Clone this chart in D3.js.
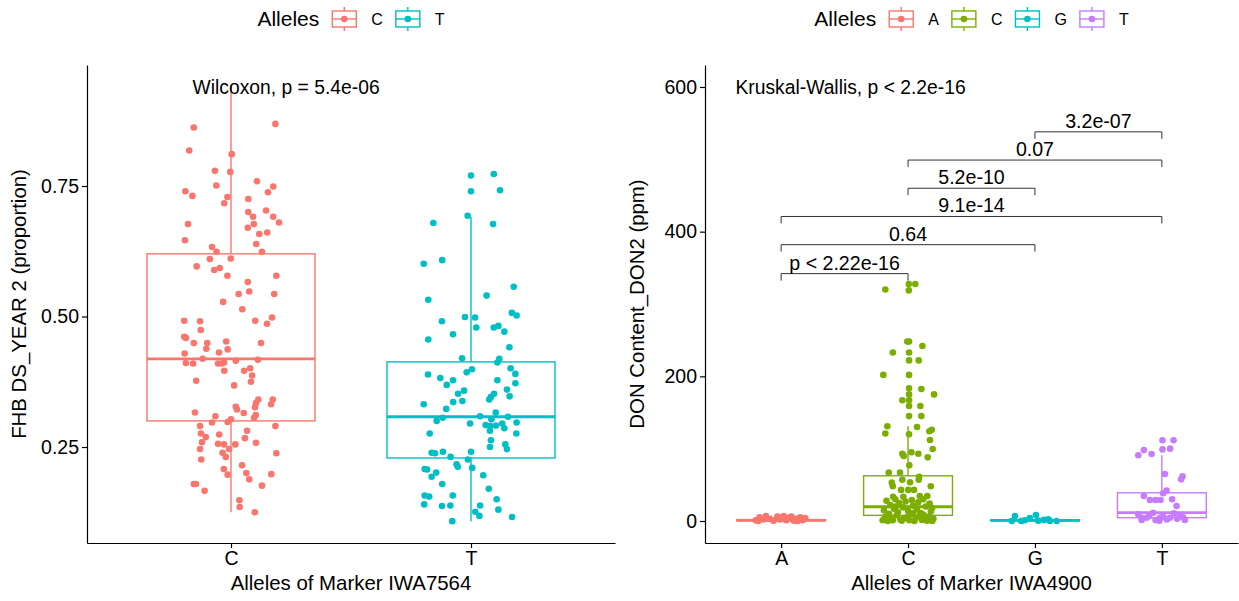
<!DOCTYPE html>
<meta charset="utf-8">
<style>
body { margin: 0; background: #fff; }
svg text { font-family: "Liberation Sans", Arial, sans-serif; fill: #000; }
.axis path, .axis line { stroke: #000; stroke-width: 1.2px; }
.axis text { font-size: 19.5px; fill: #000; }
</style>
<body>
<script src="https://d3js.org/d3.v7.min.js"></script>
<script>

// ---- left panel data (FHB DS_YEAR 2 by IWA7564) ----
var leftGroups = ["C", "T"];
var leftColors = ["#F8766D", "#00BFC4"];
var leftQ1  = [0.300, 0.229];
var leftMed = [0.419, 0.308];
var leftQ3  = [0.620, 0.413];
var leftLo  = [0.125, 0.108];
var leftHi  = [0.943, 0.691];
var leftTicks = [0.25, 0.50, 0.75];
var leftTest = "Wilcoxon, p = 5.4e-06";

// [jitter, value]
var leftPtsC = [[-0.155,0.862],[0.185,0.869],[-0.174,0.818],[0.003,0.811],[-0.067,0.779],[-0.003,0.777],
  [0.108,0.759],[-0.061,0.751],[0.176,0.749],[-0.19,0.740],[-0.161,0.731],[-0.015,0.729],[0.154,0.738],
  [0.072,0.725],[-0.028,0.717],[0.072,0.700],[0.146,0.703],[0.092,0.691],[0.176,0.691],[0.2,0.680],
  [-0.179,0.677],[0.095,0.677],[0.07,0.670],[0.118,0.658],[0.151,0.661],[-0.192,0.646],[0.105,0.639],
  [-0.079,0.633],[-0.06,0.624],[0.129,0.624],[-0.088,0.610],[-0.001,0.611],[-0.143,0.596],[-0.07,0.589],
  [-0.047,0.593],[-0.015,0.578],[0.189,0.578],[0.07,0.566],[0.032,0.543],[0.076,0.548],[0.18,0.543],
  [-0.033,0.528],[0.047,0.514],[-0.195,0.492],[-0.129,0.491],[0.101,0.492],[0.171,0.498],[0.15,0.486],
  [-0.126,0.474],[-0.195,0.461],[-0.188,0.459],[-0.155,0.449],[-0.099,0.449],[-0.02,0.452],[0.125,0.449],
  [-0.103,0.438],[-0.014,0.437],[-0.05,0.431],[-0.193,0.429],[-0.118,0.419],[0.02,0.415],[0.112,0.417],
  [-0.188,0.411],[-0.158,0.410],[-0.054,0.410],[-0.038,0.410],[-0.029,0.412],[-0.028,0.396],[0.055,0.396],
  [0.08,0.401],[0.088,0.387],[0.083,0.375],[-0.145,0.377],[0.013,0.368],[0.114,0.341],[0.174,0.341],
  [0.167,0.332],[0.104,0.334],[0.1,0.326],[0.02,0.327],[0.025,0.322],[0.053,0.315],[-0.15,0.316],
  [0.103,0.311],[0.096,0.306],[-0.065,0.309],[0,0.303],[-0.014,0.298],[-0.079,0.297],[-0.129,0.290],
  [0.185,0.290],[-0.125,0.276],[0.067,0.281],[-0.105,0.269],[-0.049,0.274],[0.058,0.267],[-0.121,0.259],
  [-0.054,0.256],[-0.029,0.255],[0.018,0.255],[0.104,0.258],[-0.129,0.246],[-0.008,0.246],[-0.035,0.239],
  [0.189,0.238],[-0.022,0.231],[-0.124,0.226],[0.046,0.215],[-0.03,0.208],[-0.014,0.197],[0.064,0.200],
  [0.076,0.188],[0.168,0.198],[0.129,0.176],[-0.155,0.179],[-0.146,0.179],[-0.11,0.166],[0.035,0.148],
  [0.036,0.135],[0.099,0.125]];

var leftPtsT = [[0,0.770],[0.095,0.773],[0,0.740],[0.121,0.742],[-0.014,0.693],[-0.157,0.679],[0.092,0.677],
  [-0.197,0.601],[-0.12,0.608],[-0.178,0.532],[0.065,0.540],[0.178,0.557],[-0.025,0.499],[0.017,0.498],
  [0.17,0.507],[0.19,0.502],[-0.121,0.491],[0.022,0.479],[0.095,0.479],[0.114,0.482],[0.139,0.471],
  [-0.075,0.466],[-0.178,0.456],[0.16,0.441],[-0.037,0.420],[0.118,0.419],[0.11,0.412],[0.004,0.399],
  [-0.018,0.393],[0.165,0.401],[-0.179,0.389],[0.185,0.390],[-0.128,0.382],[-0.075,0.378],[-0.101,0.369],
  [0.11,0.378],[0.185,0.372],[-0.029,0.358],[-0.054,0.352],[0.15,0.360],[0.096,0.352],[0.083,0.346],
  [0.076,0.341],[0.161,0.347],[-0.036,0.338],[-0.074,0.336],[-0.197,0.332],[-0.103,0.323],[0.103,0.316],
  [0.038,0.309],[-0.118,0.306],[-0.143,0.300],[0.085,0.303],[0.154,0.308],[-0.004,0.295],[0.061,0.292],
  [0.08,0.290],[0.104,0.291],[0.13,0.295],[0.139,0.286],[0.19,0.297],[0.079,0.281],[-0.172,0.276],
  [0.189,0.276],[0.083,0.263],[0.143,0.255],[0.079,0.250],[0.15,0.246],[-0.164,0.239],[-0.15,0.238],
  [-0.117,0.241],[-0.085,0.231],[0,0.241],[-0.013,0.226],[-0.06,0.217],[-0.055,0.212],[-0.193,0.208],
  [-0.183,0.207],[-0.145,0.201],[-0.164,0.193],[0.005,0.210],[0.051,0.196],[-0.12,0.179],[0.074,0.170],
  [-0.193,0.157],[-0.174,0.155],[-0.076,0.157],[0.107,0.150],[-0.195,0.140],[-0.121,0.137],[-0.086,0.138],
  [0.038,0.138],[0.114,0.130],[0.018,0.126],[0.035,0.118],[0.171,0.116],[-0.078,0.108]];

// ---- right panel data (DON Content_DON2 by IWA4900) ----
var rightGroups = ["A", "C", "G", "T"];
var rightColors = ["#F8766D", "#7CAE00", "#00BFC4", "#C77CFF"];
var rightQ1  = [0.5, 7.8, 0.3, 4.6];
var rightMed = [1, 19.7, 0.8, 11.5];
var rightQ3  = [2, 62.5, 1.5, 39];
var rightLo  = [0, 0, 0, 0];
var rightHi  = [4, 131, 3, 91];
var rightTicks = [0, 200, 400, 600];
var rightTest = "Kruskal-Wallis, p < 2.2e-16";

var rightPtsA = [[-0.2,1],[-0.17,5],[-0.14,2],[-0.12,7],[-0.09,3],[-0.06,0.5],[-0.03,6],[-0.01,2],[0.02,7],
  [0.04,1],[0.06,4],[0.08,6],[0.1,0.5],[0.12,3],[0.15,5],[0.17,1],[0.19,4],[-0.18,0],[0,4],[0.13,0]];
var rightPtsC = [[-0.179,320],[0.006,327.7],[0.057,327.7],[0.006,318.8],
  [-0.006,248],[0.008,248],[-0.12,233],[0.113,242],[0.008,233],[0.008,222],[0.084,222],[-0.195,202],
  [0.008,202],[0.008,183.5],[0.105,182.5],[0.205,175],[0.008,175],[-0.045,167],[0.008,167],[0.008,159],
  [0.097,159],[0.008,145],[0.105,145],[0.071,130],[-0.163,131],[-0.179,121],[0.008,120],[0.187,126],
  [0.168,124],[0.173,112],[0.194,99.5],[-0.045,93],[-0.034,90],[0.026,95],[0.081,93],[0.155,88],[0.01,77],
  [-0.152,67],[-0.063,67],[0.087,61],[0.084,57],[-0.128,53],[-0.045,57],[0.016,53.5],[-0.12,48],[0.179,48],
  [-0.055,43],[0.002,43],[0.047,43],[-0.118,33.6],[-0.037,33.6],[0.092,34.5],[0.152,34.5],
  [-0.17,28],[-0.14,22],[-0.1,30],[-0.07,25],[-0.02,27],[0.03,29],[0.08,26],[0.12,30],[0.17,24],[0.19,18],
  [-0.19,15],[-0.15,10],[-0.11,17],[-0.08,12],[-0.04,19],[0,14],[0.04,21],[0.07,16],[0.1,11],[0.14,20],
  [0.18,13],[-0.18,6],[-0.13,3],[-0.09,8],[-0.06,2],[-0.01,5],[0.02,9],[0.06,4],[0.09,7],[0.13,2],[0.16,6],
  [0.2,3],[-0.16,0],[-0.12,1],[-0.05,0.5],[0.01,1],[0.05,0],[0.11,1.5],[0.15,0.5],[-0.2,1],[0.19,0],
  [-0.03,3.5],[0.04,11],[-0.1,20],[0.12,9]];
var rightPtsG = [[-0.157,7],[0.008,8.3],[0.105,2.4],[-0.108,0],[-0.183,0],[0.026,0.5],[0.118,0],[0.171,0],
  [-0.08,1],[-0.04,4],[0.07,1.5]];
var rightPtsT = [[0.005,111.6],[0.092,111.6],[0.005,99],[0.065,100],[-0.186,91],[-0.142,98],[-0.081,92.6],
  [0.024,65],[0.152,57.6],[0.163,61.8],[0.037,42],[0.01,38.3],[-0.142,34.6],[-0.094,29],[-0.05,29],
  [-0.011,29],[0.081,30],[0.116,20.7],[-0.186,9.2],[-0.159,4.6],[-0.12,4.6],[-0.068,11.5],[-0.016,4.6],
  [-0.05,1.4],[0.01,6],[0.063,4.6],[0.094,10.6],[0.142,8.3],[0.168,5],[0.181,1.4],[-0.159,1.4],[-0.02,0.5],
  [0.12,3],[-0.1,7],[0.04,2]];

var bracketFrom   = ["A", "A", "A", "C", "C", "G"];
var bracketTo     = ["C", "G", "T", "G", "T", "T"];
var bracketY      = [342, 382, 421, 460, 499, 538];
var bracketLabels = ["p < 2.22e-16", "0.64", "9.1e-14", "5.2e-10", "0.07", "3.2e-07"];

var W = 1239, H = 601;
var svg = d3.select("body").append("svg").attr("width", W).attr("height", H);

function drawPanel(opt) {
  var x = d3.scaleLinear().domain([0.4, opt.groups.length + 0.6]).range([opt.left, opt.right]);
  var y = d3.scaleLinear().domain(opt.ydomain).range([543, 65]);
  var g = svg.append("g");
  var bw = 0.7;

  // boxes
  opt.groups.forEach(function(grp, i) {
    var cx = x(i + 1), col = opt.colors[i];
    var x0 = x(i + 1 - bw / 2), x1 = x(i + 1 + bw / 2);
    g.append("line").attr("x1", cx).attr("x2", cx).attr("y1", y(opt.q3[i])).attr("y2", y(opt.hi[i]))
      .attr("stroke", col).attr("stroke-width", 1.4);
    g.append("line").attr("x1", cx).attr("x2", cx).attr("y1", y(opt.q1[i])).attr("y2", y(opt.lo[i]))
      .attr("stroke", col).attr("stroke-width", 1.4);
    g.append("rect").attr("x", x0).attr("width", x1 - x0)
      .attr("y", y(opt.q3[i])).attr("height", Math.max(0, y(opt.q1[i]) - y(opt.q3[i])))
      .attr("fill", "white").attr("stroke", col).attr("stroke-width", 1.4);
    g.append("line").attr("x1", x0).attr("x2", x1).attr("y1", y(opt.med[i])).attr("y2", y(opt.med[i]))
      .attr("stroke", col).attr("stroke-width", 2.8);
  });

  // jittered points
  opt.points.forEach(function(pts, i) {
    g.selectAll(null).data(pts).enter().append("circle")
      .attr("cx", function(d) { return x(i + 1 + d[0]); })
      .attr("cy", function(d) { return y(d[1]); })
      .attr("r", 3.3)
      .attr("fill", opt.colors[i]);
  });

  // axes
  g.append("g").attr("class", "axis").attr("transform", "translate(0,543)")
    .call(d3.axisBottom(x).tickValues(opt.groups.map(function(d, i) { return i + 1; }))
      .tickFormat(function(d) { return opt.groups[d - 1]; }).tickSize(5).tickSizeOuter(0).tickPadding(3));
  g.append("g").attr("class", "axis").attr("transform", "translate(" + opt.left + ",0)")
    .call(d3.axisLeft(y).tickValues(opt.ticks).tickFormat(opt.fmt).tickSize(5).tickSizeOuter(0).tickPadding(3));

  // axis titles
  g.append("text").attr("x", (opt.left + opt.right) / 2).attr("y", 590)
    .attr("text-anchor", "middle").style("font-size", "20.4px").text(opt.xtitle);
  g.append("text").attr("transform", "translate(" + (opt.left - 61) + "," + 304 + ") rotate(-90)")
    .attr("text-anchor", "middle").style("font-size", "20.4px").text(opt.ytitle);

  // test label
  g.append("text").attr("x", x(opt.testX)).attr("y", y(opt.testY)).attr("dy", "0.35em")
    .style("font-size", "19.3px").text(opt.test);

  // legend
  var lg = svg.append("g");
  var t = lg.append("text").attr("x", 0).attr("y", 26).style("font-size", "21px").text("Alleles");
  var cur = t.node().getComputedTextLength() + 13;
  opt.groups.forEach(function(grp, i) {
    var col = opt.colors[i];
    lg.append("line").attr("x1", cur + 12).attr("x2", cur + 12).attr("y1", 7).attr("y2", 31)
      .attr("stroke", col).attr("stroke-width", 1.4);
    lg.append("rect").attr("x", cur).attr("y", 11).attr("width", 24).attr("height", 16)
      .attr("fill", "white").attr("stroke", col).attr("stroke-width", 1.4);
    lg.append("line").attr("x1", cur).attr("x2", cur + 24).attr("y1", 19).attr("y2", 19)
      .attr("stroke", col).attr("stroke-width", 1.4);
    lg.append("circle").attr("cx", cur + 12).attr("cy", 19).attr("r", 3.3).attr("fill", col);
    cur += 24 + 15;
    var lt = lg.append("text").attr("x", cur).attr("y", 25).style("font-size", "16px").text(grp);
    cur += lt.node().getComputedTextLength() + 13;
  });
  var total = cur - 13;
  lg.attr("transform", "translate(" + ((opt.left + opt.right) / 2 - total / 2) + ",0)");

  return { x: x, y: y, g: g };
}

drawPanel({
  groups: leftGroups, colors: leftColors, left: 87, right: 615,
  ydomain: [0.0661, 0.9818], q1: leftQ1, med: leftMed, q3: leftQ3, lo: leftLo, hi: leftHi,
  points: [leftPtsC, leftPtsT], ticks: leftTicks, fmt: d3.format(".2f"),
  xtitle: "Alleles of Marker IWA7564", ytitle: "FHB DS_YEAR 2 (proportion)",
  test: leftTest, testX: 0.84, testY: 0.94
});

var rp = drawPanel({
  groups: rightGroups, colors: rightColors, left: 705, right: 1238,
  ydomain: [-30.4, 630.4], q1: rightQ1, med: rightMed, q3: rightQ3, lo: rightLo, hi: rightHi,
  points: [rightPtsA, rightPtsC, rightPtsG, rightPtsT], ticks: rightTicks, fmt: d3.format("d"),
  xtitle: "Alleles of Marker IWA4900", ytitle: "DON Content_DON2 (ppm)",
  test: rightTest, testX: 0.64, testY: 600
});

// pairwise comparison brackets
bracketLabels.forEach(function(lab, i) {
  var xa = rp.x(rightGroups.indexOf(bracketFrom[i]) + 1);
  var xb = rp.x(rightGroups.indexOf(bracketTo[i]) + 1);
  var yy = rp.y(bracketY[i]);
  rp.g.append("path")
    .attr("d", "M" + xa + "," + (yy + 7) + "V" + yy + "H" + xb + "V" + (yy + 7))
    .attr("fill", "none").attr("stroke", "#333").attr("stroke-width", 1);
  rp.g.append("text").attr("x", (xa + xb) / 2).attr("y", yy - 4)
    .attr("text-anchor", "middle").style("font-size", "19.6px").text(lab);
});

</script>
</body>
